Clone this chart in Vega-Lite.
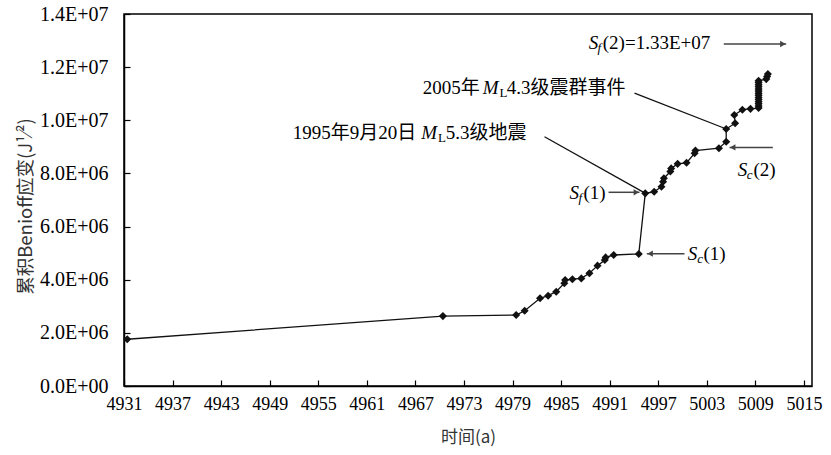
{
  "$schema": "https://vega.github.io/schema/vega-lite/v6.json",
  "width": 688,
  "height": 372,
  "autosize": {"type": "none"},
  "padding": {"left": 124, "top": 14, "right": 19, "bottom": 69},
  "background": "white",
  "config": {
    "view": {"stroke": "black", "strokeWidth": 1.5},
    "font": "'Liberation Serif', 'Times New Roman', 'DejaVu Serif', serif"
  },
  "datasets": {
    "points": [
      {"x": 4931.4, "y": 1760000},
      {"x": 4970.4, "y": 2630000},
      {"x": 4979.45, "y": 2670000},
      {"x": 4980.5, "y": 2830000},
      {"x": 4982.4, "y": 3300000},
      {"x": 4983.4, "y": 3400000},
      {"x": 4984.4, "y": 3550000},
      {"x": 4985.4, "y": 3870000},
      {"x": 4985.5, "y": 3990000},
      {"x": 4986.4, "y": 4020000},
      {"x": 4987.5, "y": 4050000},
      {"x": 4988.5, "y": 4240000},
      {"x": 4989.5, "y": 4530000},
      {"x": 4990.4, "y": 4740000},
      {"x": 4990.5, "y": 4840000},
      {"x": 4991.5, "y": 4930000},
      {"x": 4994.6, "y": 4970000},
      {"x": 4995.4, "y": 7250000},
      {"x": 4996.5, "y": 7310000},
      {"x": 4997.4, "y": 7500000},
      {"x": 4997.6, "y": 7690000},
      {"x": 4997.7, "y": 7820000},
      {"x": 4998.5, "y": 8070000},
      {"x": 4998.6, "y": 8190000},
      {"x": 4999.4, "y": 8360000},
      {"x": 5000.5, "y": 8400000},
      {"x": 5001.5, "y": 8760000},
      {"x": 5001.6, "y": 8860000},
      {"x": 5004.5, "y": 8950000},
      {"x": 5005.4, "y": 9190000},
      {"x": 5005.4, "y": 9670000},
      {"x": 5006.5, "y": 9890000},
      {"x": 5006.4, "y": 10200000},
      {"x": 5007.4, "y": 10400000},
      {"x": 5008.4, "y": 10430000},
      {"x": 5009.4, "y": 10460000},
      {"x": 5009.4, "y": 10540000},
      {"x": 5009.4, "y": 10620000},
      {"x": 5009.4, "y": 10700000},
      {"x": 5009.4, "y": 10780000},
      {"x": 5009.4, "y": 10860000},
      {"x": 5009.4, "y": 10940000},
      {"x": 5009.4, "y": 11020000},
      {"x": 5009.4, "y": 11100000},
      {"x": 5009.4, "y": 11180000},
      {"x": 5009.4, "y": 11260000},
      {"x": 5009.4, "y": 11340000},
      {"x": 5009.4, "y": 11420000},
      {"x": 5009.4, "y": 11490000},
      {"x": 5010.35, "y": 11550000},
      {"x": 5010.45, "y": 11650000},
      {"x": 5010.55, "y": 11740000}
    ],
    "leaders": [
      {"x": 4982.95, "y": 9380000, "x2": 4995.43, "y2": 7250000},
      {"x": 4994.07, "y": 11020000, "x2": 5005.19, "y2": 9700000}
    ],
    "arrows": [
      {"x": 5005.1, "y": 12870000, "x2": 5012.81},
      {"x": 4990.86, "y": 7290000, "x2": 4994.69},
      {"x": 5000.25, "y": 4980000, "x2": 4995.59},
      {"x": 5011.16, "y": 8980000, "x2": 5005.81}
    ],
    "headsRight": [
      {"x": 5012.4, "y": 12870000},
      {"x": 4994.3, "y": 7290000}
    ],
    "headsLeft": [
      {"x": 4996.0, "y": 4980000},
      {"x": 5006.2, "y": 8980000}
    ],
    "plainText": [
      {"x": 4951.86, "y": 9520000, "t": "1995年9月20日"},
      {"x": 4970.75, "y": 9520000, "t": "5.3级地震"},
      {"x": 4967.92, "y": 11220000, "t": "2005年"},
      {"x": 4978.3, "y": 11220000, "t": "4.3级震群事件"},
      {"x": 4990.15, "y": 12890000, "t": "(2)=1.33E+07"},
      {"x": 4987.77, "y": 7280000, "t": "(1)"},
      {"x": 5002.6, "y": 4970000, "t": "(1)"},
      {"x": 5008.77, "y": 8130000, "t": "(2)"}
    ],
    "italicText": [
      {"x": 4967.72, "y": 9520000, "t": "M"},
      {"x": 4975.33, "y": 11220000, "t": "M"},
      {"x": 4988.43, "y": 12890000, "t": "S"},
      {"x": 4986.04, "y": 7280000, "t": "S"},
      {"x": 5000.66, "y": 4970000, "t": "S"},
      {"x": 5006.83, "y": 8130000, "t": "S"}
    ],
    "subItalic": [
      {"x": 4989.5, "y": 12890000, "t": "f"},
      {"x": 4987.15, "y": 7280000, "t": "f"},
      {"x": 5001.82, "y": 4970000, "t": "c"},
      {"x": 5007.95, "y": 8130000, "t": "c"}
    ],
    "subUpright": [
      {"x": 4969.8, "y": 9520000, "t": "L"},
      {"x": 4977.4, "y": 11220000, "t": "L"}
    ]
  },
  "layer": [
    {
      "data": {"name": "points"},
      "mark": {"type": "line", "color": "#111111", "strokeWidth": 1.3},
      "encoding": {
        "x": {
          "field": "x", "type": "quantitative",
          "scale": {"domain": [4931, 5016], "nice": false, "zero": false},
          "axis": {
            "title": "时间(a)",
            "values": [4931, 4937, 4943, 4949, 4955, 4961, 4967, 4973, 4979, 4985, 4991, 4997, 5003, 5009, 5015],
            "format": "d",
            "grid": false,
            "domainColor": "black", "domainWidth": 1.5,
            "tickColor": "black", "tickWidth": 1.2, "tickSize": -6,
            "labelFont": "'Liberation Serif', 'Times New Roman', 'DejaVu Serif', serif", "labelFontSize": 18, "labelColor": "black",
            "labelPadding": 15, "labelFlush": false,
            "titleFont": "'Noto Sans CJK SC'", "titleFontSize": 17, "titleFontWeight": "normal", "titleColor": "#333333",
            "titleX": 344, "titleY": 51, "titleBaseline": "middle", "titleAnchor": "middle"
          }
        },
        "y": {
          "field": "y", "type": "quantitative",
          "scale": {"domain": [0, 14000000], "nice": false},
          "axis": {
            "title": "累积Benioff应变(J¹⁄²)",
            "values": [0, 2000000, 4000000, 6000000, 8000000, 10000000, 12000000, 14000000],
            "labelExpr": "upper(replace(format(datum.value, '.1e'), 'e+', 'e+0'))",
            "grid": false,
            "domainColor": "black", "domainWidth": 1.5,
            "tickColor": "black", "tickWidth": 1.2, "tickSize": -6,
            "labelFont": "'Liberation Serif', 'Times New Roman', 'DejaVu Serif', serif", "labelFontSize": 20, "labelColor": "black",
            "labelPadding": 22, "labelFlush": false,
            "titleFont": "'Noto Sans CJK SC'", "titleFontSize": 18.5, "titleFontWeight": "normal", "titleColor": "#333333",
            "titleAngle": -90, "titleX": -99, "titleY": 192, "titleBaseline": "middle", "titleAlign": "center"
          }
        },
        "order": {"field": "y", "type": "quantitative"}
      }
    },
    {
      "data": {"name": "points"},
      "mark": {"type": "point", "shape": "diamond", "filled": true, "size": 65, "color": "#111111", "opacity": 1},
      "encoding": {
        "x": {"field": "x", "type": "quantitative"},
        "y": {"field": "y", "type": "quantitative"}
      }
    },
    {
      "data": {"name": "leaders"},
      "mark": {"type": "rule", "color": "#111111", "strokeWidth": 1.3},
      "encoding": {
        "x": {"field": "x", "type": "quantitative"},
        "y": {"field": "y", "type": "quantitative"},
        "x2": {"field": "x2"},
        "y2": {"field": "y2"}
      }
    },
    {
      "data": {"name": "arrows"},
      "mark": {"type": "rule", "color": "#444444", "strokeWidth": 1.5},
      "encoding": {
        "x": {"field": "x", "type": "quantitative"},
        "y": {"field": "y", "type": "quantitative"},
        "x2": {"field": "x2"}
      }
    },
    {
      "data": {"name": "headsRight"},
      "mark": {"type": "point", "shape": "triangle-right", "filled": true, "size": 40, "color": "#444444", "opacity": 1},
      "encoding": {
        "x": {"field": "x", "type": "quantitative"},
        "y": {"field": "y", "type": "quantitative"}
      }
    },
    {
      "data": {"name": "headsLeft"},
      "mark": {"type": "point", "shape": "triangle-left", "filled": true, "size": 40, "color": "#444444", "opacity": 1},
      "encoding": {
        "x": {"field": "x", "type": "quantitative"},
        "y": {"field": "y", "type": "quantitative"}
      }
    },
    {
      "data": {"name": "plainText"},
      "mark": {"type": "text", "align": "left", "baseline": "middle", "fontSize": 19, "font": "'Liberation Serif', 'Times New Roman', 'Noto Sans CJK SC', serif", "color": "black"},
      "encoding": {
        "x": {"field": "x", "type": "quantitative"},
        "y": {"field": "y", "type": "quantitative"},
        "text": {"field": "t"}
      }
    },
    {
      "data": {"name": "italicText"},
      "mark": {"type": "text", "align": "left", "baseline": "middle", "fontSize": 19, "fontStyle": "italic", "font": "'Liberation Serif', 'Times New Roman', serif", "color": "black"},
      "encoding": {
        "x": {"field": "x", "type": "quantitative"},
        "y": {"field": "y", "type": "quantitative"},
        "text": {"field": "t"}
      }
    },
    {
      "data": {"name": "subItalic"},
      "mark": {"type": "text", "align": "left", "baseline": "middle", "fontSize": 13, "fontStyle": "italic", "dy": 5, "font": "'Liberation Serif', 'Times New Roman', serif", "color": "black"},
      "encoding": {
        "x": {"field": "x", "type": "quantitative"},
        "y": {"field": "y", "type": "quantitative"},
        "text": {"field": "t"}
      }
    },
    {
      "data": {"name": "subUpright"},
      "mark": {"type": "text", "align": "left", "baseline": "middle", "fontSize": 13, "dy": 5, "font": "'Liberation Serif', 'Times New Roman', serif", "color": "black"},
      "encoding": {
        "x": {"field": "x", "type": "quantitative"},
        "y": {"field": "y", "type": "quantitative"},
        "text": {"field": "t"}
      }
    }
  ]
}
